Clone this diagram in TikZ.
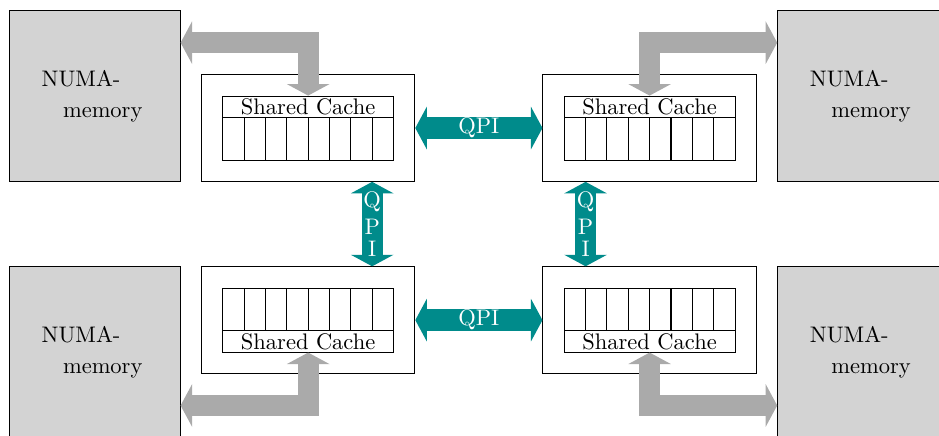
\documentclass[tikz,border=0pt]{standalone}
\usepackage{tikz}
\usetikzlibrary{arrows.meta}
\usetikzlibrary{positioning}

\definecolor{numagray}{RGB}{211,211,211}
\definecolor{busgray}{RGB}{170,170,170}
\definecolor{qpiteal}{RGB}{0,139,139}

\tikzset{
  numa/.style={draw, fill=numagray, minimum width=2.667cm, minimum height=2.667cm, align=left},
  numatext/.style={inner sep=0pt, align=left, xshift=-1.2pt},
  socket/.style={draw, minimum width=3.333cm, minimum height=1.667cm},
  cachelabel/.style={draw, minimum width=2.667cm, minimum height=0.333cm, inner sep=0pt},
  cell/.style={draw, minimum width=0.333cm, minimum height=0.667cm, inner sep=0pt},
  fat tips/.style={{Triangle[length=0.18cm,width=0.66cm]}-{Triangle[length=0.18cm,width=0.66cm]}},
  qpi/.style={draw=qpiteal, line width=0.333cm, fat tips},
  bus/.style={draw=busgray, line width=0.333cm, line join=miter, fat tips},
}

\begin{document}
\begin{tikzpicture}[x=0.6667cm,y=0.6667cm]
  \useasboundingbox (-11.22,-4.965) rectangle (10.78,5.25);

  % memories
  \foreach \s/\x/\y in {nw/-9/3, ne/9/3, sw/-9/-3, se/9/-3} {
    \node[numa] (mem-\s) at (\x,\y) {};
    \node[numatext] (memtext-\s) at (mem-\s) {NUMA-\\[2pt]\hspace*{0.95em}memory};
  }

  % sockets
  \node[socket] (cpu-nw) at (-4,2.25) {};
  \node[socket] (cpu-ne) at (4,2.25) {};
  \node[socket] (cpu-sw) at (-4,-2.25) {};
  \node[socket] (cpu-se) at (4,-2.25) {};

  % caches
  \foreach \s/\x in {nw/-4, ne/4} {
    \node[cachelabel] (cache-\s) at (\x,2.75) {Shared Cache};
    \foreach \i in {1,...,8}
      \node[cell] (cell-\s-\i) at (\x-2.25+0.5*\i, 2) {};
  }
  \foreach \s/\x in {sw/-4, se/4} {
    \node[cachelabel] (cache-\s) at (\x,-2.75) {Shared Cache};
    \foreach \i in {1,...,8}
      \node[cell] (cell-\s-\i) at (\x-2.25+0.5*\i, -2) {};
  }

  % QPI links
  \draw[qpi] (cpu-nw) -- (cpu-ne) node[midway, text=white] {QPI};
  \draw[qpi] (cpu-sw) -- (cpu-se) node[midway, text=white] {QPI};
  \draw[qpi] ([xshift=1cm]cpu-nw.south) -- ([xshift=1cm]cpu-sw.north)
    node[midway, text=white] {\shortstack{Q\\P\\I}};
  \draw[qpi] ([xshift=-1cm]cpu-ne.south) -- ([xshift=-1cm]cpu-se.north)
    node[midway, text=white] {\shortstack{Q\\P\\I}};

  % memory buses
  \coordinate (bus-nw) at (-4,4.25);
  \coordinate (bus-ne) at (4,4.25);
  \coordinate (bus-sw) at (-4,-4.25);
  \coordinate (bus-se) at (4,-4.25);
  \draw[bus] (mem-nw.east |- bus-nw) -- (bus-nw) -- (cache-nw.north);
  \draw[bus] (mem-ne.west |- bus-ne) -- (bus-ne) -- (cache-ne.north);
  \draw[bus] (mem-sw.east |- bus-sw) -- (bus-sw) -- (cache-sw.south);
  \draw[bus] (mem-se.west |- bus-se) -- (bus-se) -- (cache-se.south);
\end{tikzpicture}
\end{document}
